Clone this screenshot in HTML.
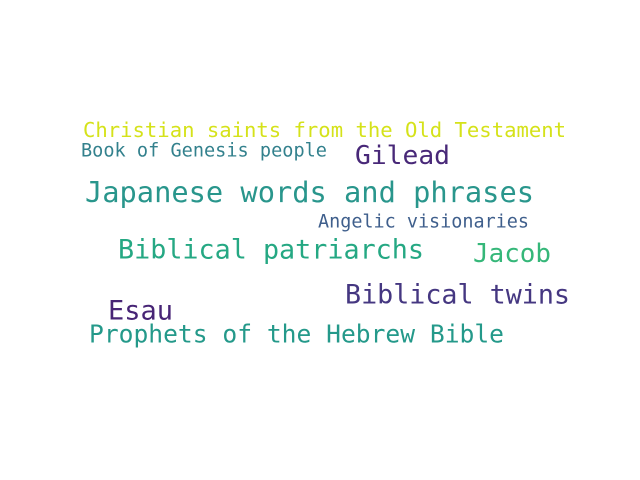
<!DOCTYPE html>
<html><head><meta charset="utf-8"><style>
html,body{margin:0;padding:0;background:#fff;width:640px;height:480px;overflow:hidden}
svg text{font-family:"DejaVu Sans Mono","Liberation Mono",monospace;dominant-baseline:central}
</style></head><body>
<svg width="640" height="480">
<text x="83" y="130" font-size="20.5" fill="#d5e21a" textLength="483" lengthAdjust="spacingAndGlyphs">Christian saints from the Old Testament</text>
<text x="81" y="151" font-size="18.5" fill="#33818d" textLength="246" lengthAdjust="spacingAndGlyphs">Book of Genesis people</text>
<text x="355" y="156" font-size="26" fill="#482878" textLength="95" lengthAdjust="spacingAndGlyphs">Gilead</text>
<text x="85" y="192" font-size="28.7" fill="#29968c" textLength="449" lengthAdjust="spacingAndGlyphs">Japanese words and phrases</text>
<text x="318" y="222" font-size="18.4" fill="#3f5f8c" textLength="211" lengthAdjust="spacingAndGlyphs">Angelic visionaries</text>
<text x="118" y="250" font-size="26.8" fill="#25a883" textLength="306" lengthAdjust="spacingAndGlyphs">Biblical patriarchs</text>
<text x="473" y="254" font-size="26" fill="#35b779" textLength="78" lengthAdjust="spacingAndGlyphs">Jacob</text>
<text x="345" y="295" font-size="26.7" fill="#453781" textLength="225" lengthAdjust="spacingAndGlyphs">Biblical twins</text>
<text x="108" y="311" font-size="27" fill="#472475" textLength="65" lengthAdjust="spacingAndGlyphs">Esau</text>
<text x="89" y="334" font-size="24.6" fill="#24998a" textLength="415" lengthAdjust="spacingAndGlyphs">Prophets of the Hebrew Bible</text>
</svg>
</body></html>
